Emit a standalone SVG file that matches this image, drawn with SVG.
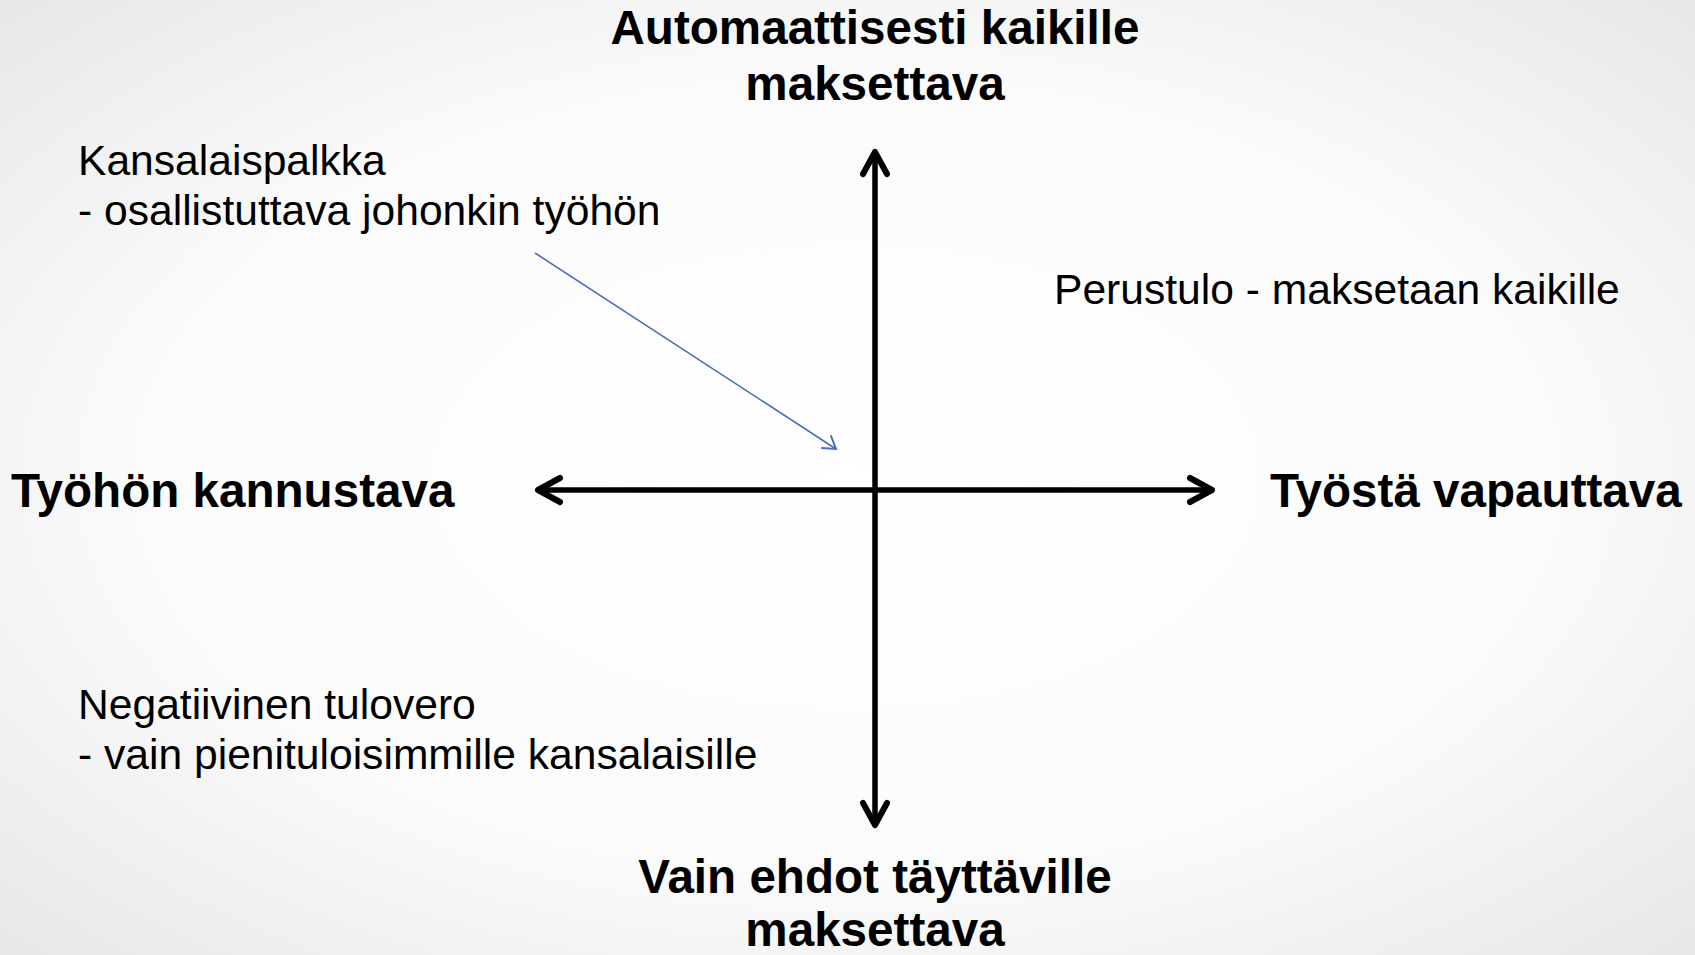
<svg xmlns="http://www.w3.org/2000/svg" width="1695" height="955" viewBox="0 0 1695 955">
  <defs>
    <radialGradient id="bg" cx="50%" cy="50%" r="75%" gradientUnits="objectBoundingBox">
      <stop offset="0" stop-color="#ffffff"/>
      <stop offset="0.55" stop-color="#fbfbfb"/>
      <stop offset="1" stop-color="#e4e4e4"/>
    </radialGradient>
    <marker id="ah" markerUnits="userSpaceOnUse" markerWidth="60" markerHeight="60" refX="0" refY="0" viewBox="-30 -30 60 60" orient="auto-start-reverse" overflow="visible">
      <path d="M -22 -12 L 0 0 L -22 12" fill="none" stroke="#000" stroke-width="6" stroke-linecap="round" stroke-linejoin="round"/>
    </marker>
    <style>
      .bold { font-family: "Liberation Sans", Arial, sans-serif; font-weight: bold; font-size: 47.6px; fill: #000; }
      .reg { font-family: "Liberation Sans", Arial, sans-serif; font-size: 42.6px; fill: #000; }
      .axis { stroke: #000; stroke-width: 5.5; fill: none; marker-start: url(#ah); marker-end: url(#ah); }
      .note { stroke: #4a6cc0; fill: none; }
    </style>
  </defs>
  <rect x="0" y="0" width="1695" height="955" fill="url(#bg)"/>

  <g id="connectors">
    <line class="axis" x1="875" y1="152" x2="875" y2="825"/>
    <line class="axis" x1="538" y1="490" x2="1212" y2="490"/>
    <line class="note" x1="535" y1="253" x2="836" y2="449" stroke-width="1.6"/>
    <path class="note" d="M 822 448 L 836 449 L 831 436" stroke-width="2" stroke-linecap="round"/>
  </g>

  <g id="top">
    <text class="bold" x="875" y="44" text-anchor="middle">Automaattisesti kaikille</text>
    <text class="bold" x="875" y="100" text-anchor="middle">maksettava</text>
  </g>
  <g id="bottom">
    <text class="bold" x="875" y="893" text-anchor="middle">Vain ehdot täyttäville</text>
    <text class="bold" x="875" y="946" text-anchor="middle">maksettava</text>
  </g>
  <g id="left">
    <text class="bold" x="11" y="507">Työhön kannustava</text>
  </g>
  <g id="right">
    <text class="bold" x="1270" y="507">Työstä vapauttava</text>
  </g>
  <g id="kansalaispalkka">
    <text class="reg" x="78" y="175">Kansalaispalkka</text>
    <text class="reg" x="78" y="225">- osallistuttava johonkin työhön</text>
  </g>
  <g id="perustulo">
    <text class="reg" x="1054" y="304">Perustulo - maksetaan kaikille</text>
  </g>
  <g id="negatiivinen">
    <text class="reg" x="78" y="719">Negatiivinen tulovero</text>
    <text class="reg" x="78" y="769">- vain pienituloisimmille kansalaisille</text>
  </g>
</svg>
